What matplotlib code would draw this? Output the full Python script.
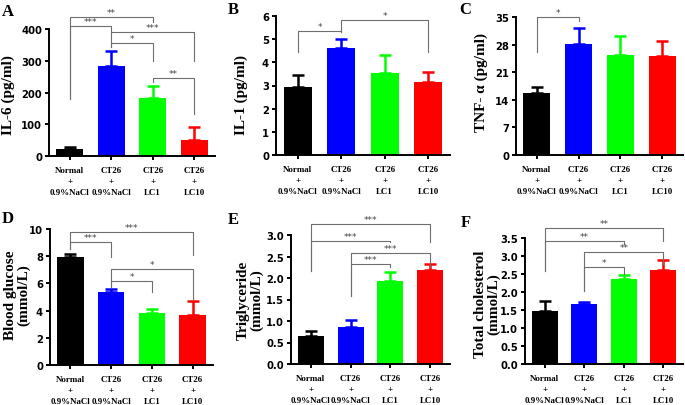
import numpy as np
import matplotlib
matplotlib.use("Agg")
import matplotlib.pyplot as plt

W, H = 685, 406

groups = ["Normal\n+\n0.9%NaCl", "CT26\n+\n0.9%NaCl", "CT26\n+\nLC1", "CT26\n+\nLC10"]
colors = ["#000000", "#0000FF", "#00FF00", "#FF0000"]

# means and upper end of error bars
il6 = [22, 285, 182, 50]
il6_top = [28, 330, 220, 90]
il1 = [2.95, 4.6, 3.55, 3.15]
il1_top = [3.47, 5.02, 4.3, 3.6]
tnf = [15.8, 28.2, 25.3, 25.2]
tnf_top = [17.2, 32.2, 30.2, 28.8]
glucose = [7.95, 5.4, 3.85, 3.7]
glucose_top = [8.15, 5.6, 4.1, 4.7]
trig = [0.66, 0.86, 1.94, 2.18]
trig_top = [0.77, 1.02, 2.13, 2.32]
chol = [1.47, 1.67, 2.37, 2.62]
chol_top = [1.75, 1.73, 2.48, 2.9]

# significance brackets: (left group, right group, bar height, left foot, right foot, stars)
br_a = [(0, 2, 438, 180, 422, "**"), (0, 1, 409, 180, 390, "***"),
        (1, 3, 390, 343, 299, "***"), (1, 2, 356, 343, 299, "*"),
        (2, 3, 246, 233, 132, "**")]
br_b = [(0, 1, 5.36, 4.45, 5.3, "*"), (1, 3, 5.83, 5.3, 4.45, "*")]
br_c = [(0, 1, 35.0, 26.1, 34.0, "*")]
br_d = [(0, 3, 9.78, 8.5, 8.09, "***"), (0, 1, 9.04, 8.5, 7.94, "***"),
        (1, 3, 7.06, 5.73, 4.85, "*"), (1, 2, 6.17, 5.73, 5.37, "*")]
br_e = [(0, 3, 3.26, 2.16, 2.84, "***"), (0, 2, 2.86, 2.16, 2.84, "***"),
        (1, 3, 2.58, 1.58, 2.26, "***"), (1, 2, 2.33, 1.58, 2.26, "***")]
br_f = [(0, 3, 3.78, 2.58, 3.42, "**"), (0, 2, 3.42, 2.58, 3.33, "**"),
        (1, 3, 3.11, 2.03, 2.78, "**"), (1, 2, 2.69, 2.03, 2.5, "*")]

panels = [
    # letter, rect px (left, right, top, bottom), values, tops, ticks, ylabel, label pos, letter pos, brackets
    ("A", (49, 215, 30, 157), il6, il6_top, [0, 100, 200, 300, 400], "IL-6 (pg/ml)", (8, 95), (2, 4), br_a),
    ("B", (276, 450, 17, 156), il1, il1_top, [0, 1, 2, 3, 4, 5, 6], "IL-1 (pg/ml)", (241, 95), (228, 2), br_b),
    ("C", (516, 683, 18, 156), tnf, tnf_top, [0, 7, 14, 21, 28, 35], "TNF- α (pg/ml)", (481, 83), (459, 2), br_c),
    ("D", (50, 213, 230, 366), glucose, glucose_top, [0, 2, 4, 6, 8, 10], "Blood glucose\n(mmol/L)", (17, 295), (2, 211), br_d),
    ("E", (291, 450, 236, 365), trig, trig_top, [0.0, 0.5, 1.0, 1.5, 2.0, 2.5, 3.0], "Triglyceride\n(mmol/L)", (250, 300), (228, 212), br_e),
    ("F", (525, 683, 239, 365), chol, chol_top, [0.0, 0.5, 1.0, 1.5, 2.0, 2.5, 3.0, 3.5], "Total cholesterol\n(mmol/L)", (487, 304), (461, 215), br_f),
]

fig = plt.figure(figsize=(W / 100, H / 100), dpi=100)
serif = ["Liberation Serif", "DejaVu Serif"]
x = np.arange(4)

for letter, (l, r, t, b), vals, tops, ticks, ylab, lpos, ppos, brs in panels:
    ax = fig.add_axes([l / W, (H - b) / H, (r - l) / W, (b - t) / H])
    err = np.array(tops) - np.array(vals)
    for i in range(4):
        ax.bar(x[i], vals[i], width=0.65, color=colors[i], zorder=2)
        ax.errorbar(x[i], vals[i], yerr=[[0], [err[i]]], color=colors[i],
                    capsize=4.5, elinewidth=1.8, capthick=1.8, fmt="none", zorder=1)
    ax.set_xlim(-0.5, 3.5)
    ax.set_ylim(ticks[0], ticks[-1])
    ax.set_yticks(ticks)
    if isinstance(ticks[1], float):
        ax.set_yticklabels(["%.1f" % v for v in ticks])
    ax.set_xticks(x)
    ax.set_xticklabels(groups, family=serif, fontweight="bold", fontsize=6.4, linespacing=1.5)
    for s in ["top", "right"]:
        ax.spines[s].set_visible(False)
    for s in ["left", "bottom"]:
        ax.spines[s].set_linewidth(1.4)
    ax.tick_params(axis="both", direction="out", length=3, width=1.4, pad=2)
    ax.tick_params(axis="x", pad=4)
    for lab in ax.get_yticklabels():
        lab.set_fontweight("bold")
        lab.set_fontsize(7.2)

    for i, j, y, fi, fj, txt in brs:
        ax.plot([i, i, j, j], [fi, y, y, fj], color="#6e6e6e", lw=0.8, clip_on=False, zorder=3)
        ax.text((i + j) / 2, y, txt, ha="center", va="bottom", fontsize=6.5,
                color="#444444", clip_on=False)

    fig.text(lpos[0] / W, 1 - lpos[1] / H, ylab, rotation=90, ha="center", va="center",
             family=serif, fontweight="bold", fontsize=11, linespacing=1.0)
    fig.text(ppos[0] / W, 1 - ppos[1] / H, letter, ha="left", va="top",
             family=serif, fontweight="bold", fontsize=12)

fig.savefig("out.png", dpi=100)
